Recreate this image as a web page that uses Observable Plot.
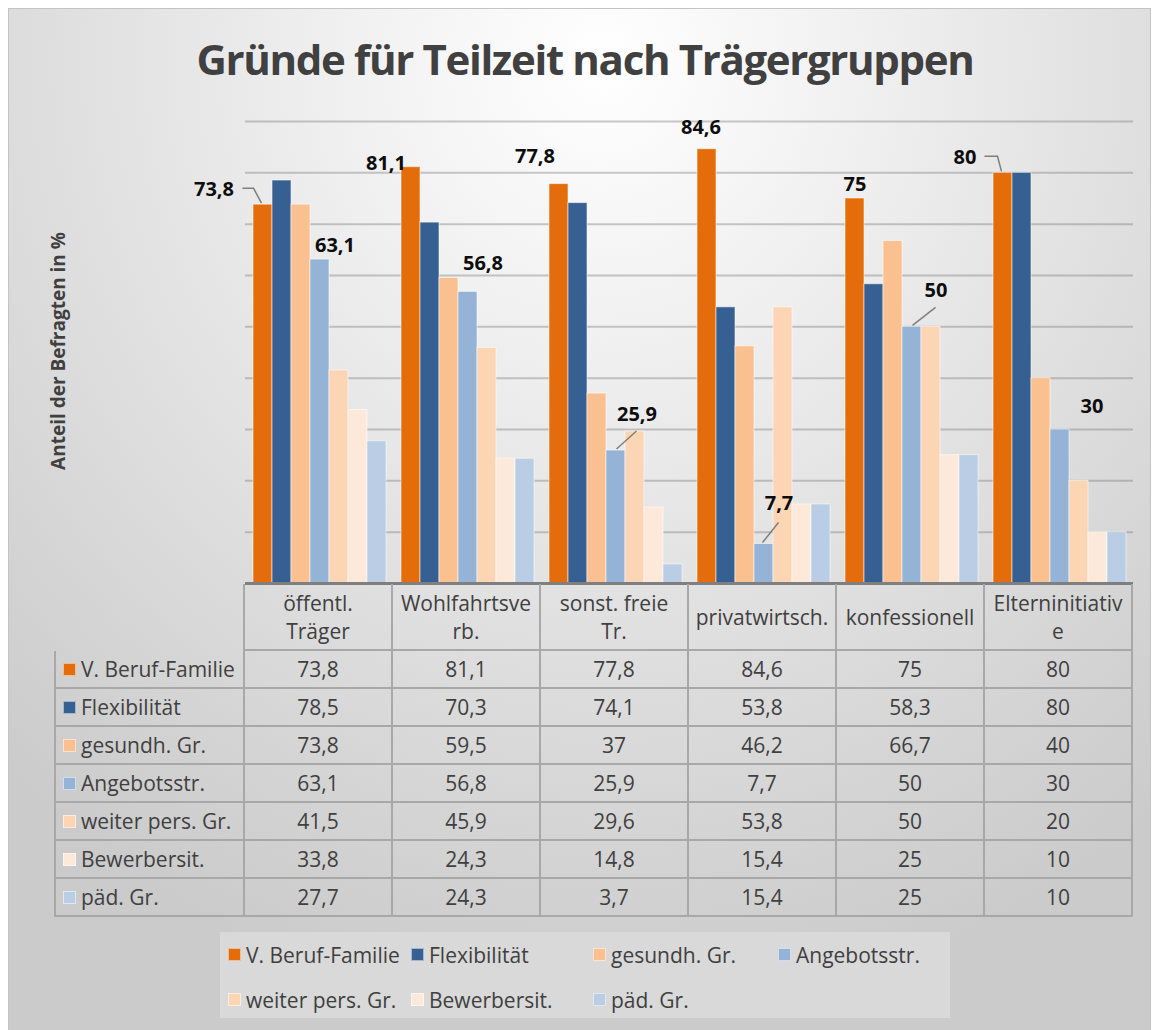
<!DOCTYPE html>
<html>
<head>
<meta charset="utf-8">
<script src="https://cdn.jsdelivr.net/npm/d3@7"></script>
<script src="https://cdn.jsdelivr.net/npm/@observablehq/plot@0.6"></script>
<style>
  html, body { margin: 0; padding: 0; background: #ffffff; }
  #wrap { position: relative; width: 1154px; height: 1030px; overflow: hidden; font-family: "Open Sans", sans-serif; color: #404040; }
  #panel { position: absolute; left: 8px; top: 8px; width: 1141px; height: 1040px; border: 1px solid #c4c4c4;
    background: radial-gradient(ellipse 78% 92% at 52% 5%, #ffffff 0%, #f4f4f4 22%, #e4e4e4 52%, #d5d5d5 80%, #cbcbcb 100%); }
  #title { position: absolute; left: 8px; top: 38px; width: 1154px; text-align: center; font-size: 42px; line-height: 42px;
    font-weight: 700; letter-spacing: -1.35px; color: #404040; white-space: nowrap; }
  #ylabel { position: absolute; left: 58px; top: 351px; transform: translate(-50%, -50%) rotate(-90deg); white-space: nowrap;
    font-size: 19px; font-weight: 700; color: #404040; }
  #chart { position: absolute; left: 0; top: 100px; }
  #table { position: absolute; left: 54px; top: 584px; display: grid; grid-template-columns: 191px repeat(6, 148px);
    grid-template-rows: 67px repeat(7, 38px); font-size: 21px; color: #404040; }
  #table .cell { box-sizing: border-box; border-right: 2px solid #a8a8a8; border-bottom: 2px solid #a8a8a8;
    display: flex; align-items: center; justify-content: center; text-align: center; line-height: 28px; white-space: nowrap; }
  #table .corner { border-right: 2px solid #a8a8a8; }
  #table .rowhead { border-left: 2px solid #a8a8a8; justify-content: flex-start; padding-left: 7px; }
  .sw { display: inline-block; width: 13px; height: 13px; box-sizing: border-box; border: 1px solid rgba(255,255,255,0.55); margin-right: 5px; flex: none; }
  #legend { position: absolute; left: 220px; top: 932px; width: 730px; height: 86px; background: #d9d9d9;
    display: grid; grid-template-columns: 183px 182px 185px 172px; grid-template-rows: 45px 45px; padding-left: 8px; box-sizing: border-box;
    font-size: 21px; color: #404040; }
  #legend .item { display: flex; align-items: center; white-space: nowrap; }
  #legend .sw { margin-right: 5px; }
</style>
</head>
<body>
<div id="wrap">
  <div id="panel"></div>
  <div id="title"></div>
  <div id="ylabel"></div>
  <div id="chart"></div>
  <div id="table"></div>
  <div id="legend"></div>
</div>
<script>
// ---------- data ----------
const titleText = "Gründe für Teilzeit nach Trägergruppen";
const yLabelText = "Anteil der Befragten in %";
const categories = ["öffentl. Träger", "Wohlfahrtsverb.", "sonst. freie Tr.", "privatwirtsch.", "konfessionell", "Elterninitiative"];
const categoryLines = [["öffentl.", "Träger"], ["Wohlfahrtsve", "rb."], ["sonst. freie", "Tr."], ["privatwirtsch."], ["konfessionell"], ["Elterninitiativ", "e"]];
const seriesNames = ["V. Beruf-Familie", "Flexibilität", "gesundh. Gr.", "Angebotsstr.", "weiter pers. Gr.", "Bewerbersit.", "päd. Gr."];
const vBerufFamilie = [73.8, 81.1, 77.8, 84.6, 75, 80];
const flexibilitaet = [78.5, 70.3, 74.1, 53.8, 58.3, 80];
const gesundhGr = [73.8, 59.5, 37, 46.2, 66.7, 40];
const angebotsstr = [63.1, 56.8, 25.9, 7.7, 50, 30];
const weiterPersGr = [41.5, 45.9, 29.6, 53.8, 50, 20];
const bewerbersit = [33.8, 24.3, 14.8, 15.4, 25, 10];
const paedGr = [27.7, 24.3, 3.7, 15.4, 25, 10];
const yTicks = [10, 20, 30, 40, 50, 60, 70, 80, 90];
const yDomain = [0, 90];

// ---------- styles / layout config ----------
const colors = ["#E46C0A", "#366092", "#FAC090", "#95B3D7", "#FCD5B5", "#FDE9D9", "#B9CDE5"];
// data labels: [category index, series index, dx, dy]
const labelSpecs = [
  [0, 0, -49, -15], [0, 3, 15, -14],
  [1, 0, -25, -4], [1, 3, 15, -28],
  [2, 0, -24, -28], [2, 3, 21, -36],
  [3, 0, -6, -22], [3, 3, 15, -40],
  [4, 0, 0, -14], [4, 3, 24, -36],
  [5, 0, -38, -15], [5, 3, 32, -23]
];
// leader lines: [category index, series index, points relative to bar top]
const leaderSpecs = [
  [0, 0, [[-20, -16], [-9, -16], [-1, -1]]],
  [5, 0, [[-18, -16], [-5, -16], [-1, -1]]],
  [2, 3, [[21, -19], [1, -1]]],
  [3, 3, [[15, -21], [-1, -1]]],
  [4, 3, [[24, -19], [1, -1]]]
];

const seriesValues = [vBerufFamilie, flexibilitaet, gesundhGr, angebotsstr, weiterPersGr, bewerbersit, paedGr];
const fmt = v => String(v).replace(".", ",");

const rows = [];
categories.forEach((c, i) => seriesNames.forEach((s, j) => rows.push({category: c, series: s, value: seriesValues[j][i]})));

document.getElementById("title").textContent = titleText;
document.getElementById("ylabel").textContent = yLabelText;

const plot = Plot.plot({
  width: 1154,
  height: 490,
  marginLeft: 245,
  marginRight: 21,
  marginTop: 21,
  marginBottom: 7,
  style: {background: "none", fontFamily: "Open Sans, sans-serif", overflow: "visible"},
  facet: {data: rows, x: "category", marginLeft: 0, marginRight: 0},
  fx: {domain: categories, padding: 0, axis: null},
  x: {domain: seriesNames, paddingInner: 0, paddingOuter: 0.35, axis: null},
  y: {domain: yDomain, axis: null},
  color: {domain: seriesNames, range: colors},
  marks: [
    Plot.ruleY(yTicks, {stroke: "#7a7a7a", strokeOpacity: 0.4, strokeWidth: 2}),
    Plot.barY(rows, {x: "series", y: "value", fill: "series", stroke: "#ffffff", strokeOpacity: 0.55, strokeWidth: 1}),
    Plot.ruleY([0], {stroke: "#7f7f7f", strokeWidth: 3}),
    ...labelSpecs.map(([ci, si, dx, dy]) => Plot.text(rows, {
      filter: d => d.category === categories[ci] && d.series === seriesNames[si],
      x: "series", y: "value", text: d => fmt(d.value), dx, dy,
      fontSize: 20, fontWeight: "bold", fill: "#0d0d0d"
    }))
  ]
});
document.getElementById("chart").appendChild(plot);

// leader lines positioned through the plot's scales
try {
  const svg = plot.tagName.toLowerCase() === "svg" ? plot : plot.querySelector("svg");
  const fxS = plot.scale("fx"), xS = plot.scale("x"), yS = plot.scale("y");
  const x0 = Math.min(...xS.range);
  const g = d3.select(svg).append("g").attr("aria-label", "leaders");
  for (const [ci, si, pts] of leaderSpecs) {
    const c = categories[ci], s = seriesNames[si];
    const v = seriesValues[si][ci];
    const ax = fxS.apply(c) + (xS.apply(s) - x0) + xS.bandwidth / 2;
    const ay = yS.apply(v);
    g.append("path")
      .attr("d", d3.line()(pts.map(([px, py]) => [ax + px, ay + py])))
      .attr("fill", "none").attr("stroke", "#7f7f7f").attr("stroke-width", 1.5);
  }
} catch (e) { console.error(e); }

// data table
const table = document.getElementById("table");
const mk = (cls, html) => { const d = document.createElement("div"); d.className = cls; d.innerHTML = html; table.appendChild(d); return d; };
mk("corner", "");
categoryLines.forEach(lines => mk("cell", lines.join("<br>")));
seriesNames.forEach((s, j) => {
  const h = mk("cell rowhead", "");
  const sw = document.createElement("span"); sw.className = "sw"; sw.style.background = colors[j];
  h.appendChild(sw); h.appendChild(document.createTextNode(s));
  categories.forEach((c, i) => mk("cell", fmt(seriesValues[j][i])));
});

// legend
const legend = document.getElementById("legend");
seriesNames.forEach((s, j) => {
  const it = document.createElement("div"); it.className = "item";
  const sw = document.createElement("span"); sw.className = "sw"; sw.style.background = colors[j];
  it.appendChild(sw); it.appendChild(document.createTextNode(s));
  legend.appendChild(it);
});
</script>
</body>
</html>
